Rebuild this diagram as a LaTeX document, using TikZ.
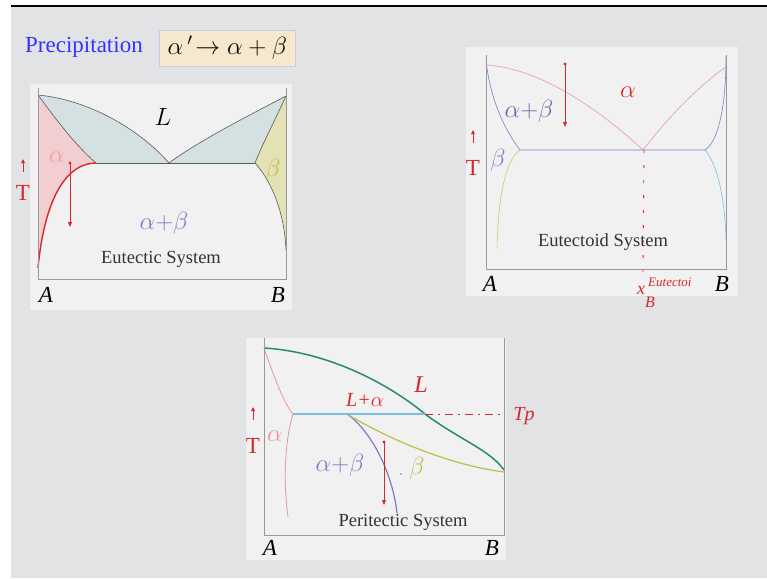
\documentclass[tikz,border=0pt]{standalone}
\usepackage{fontspec}
\setmainfont{Liberation Serif}
\usetikzlibrary{arrows.meta}
\definecolor{bgc}{RGB}{226,227,228}
\definecolor{panel}{RGB}{241,241,241}
\definecolor{hred}{RGB}{215,40,45}
\definecolor{lblue}{RGB}{212,224,226}
\definecolor{lpink}{RGB}{243,206,208}
\definecolor{lyel}{RGB}{226,226,180}
\definecolor{purp}{RGB}{130,120,200}
\definecolor{pink}{RGB}{235,150,160}
\definecolor{olive}{RGB}{190,190,70}
\definecolor{tgreen}{RGB}{40,140,100}
\definecolor{skyb}{RGB}{120,190,230}
\definecolor{beige}{RGB}{246,232,205}
\tikzset{
  frame/.style={draw=gray!80, line width=0.8pt},
  bnd/.style={draw=gray!70!black, line width=0.6pt},
  axlab/.style={font=\fontsize{23}{25}\selectfont\itshape},
  systxt/.style={font=\fontsize{18.5}{20}\selectfont, text=black!80},
  hand/.style={text=hred, font=\fontsize{20}{22}\selectfont\itshape},
  mlab/.style={font=\fontsize{23}{25}\selectfont},
  coolarr/.style={hred, line width=0.8pt, -{Triangle[length=5pt,width=4pt]}},
  tarr/.style={hred, line width=0.9pt, -{Triangle[length=4pt,width=3.5pt]}},
  tlab/.style={text=hred, font=\fontsize{23}{25}\selectfont},
}
\begin{document}
\begin{tikzpicture}[x=1pt,y=-1pt]
\useasboundingbox (0,0) rectangle (767,578);
\fill[bgc] (0,0) rectangle (767,578);
\fill[white] (0,0) rectangle (767,5);
\fill[white] (0,0) rectangle (11,578);
\fill[black] (11,5) rectangle (767,7);

% title
\node[text=blue!80!white, font=\fontsize{23}{25}\selectfont, anchor=west, inner sep=0pt] (title) at (25,47) {Precipitation};
\node[fill=beige, draw=purp!40, inner sep=3pt, minimum height=36pt, minimum width=136pt, anchor=west, font=\fontsize{25}{27}\selectfont] (eq) at (159,48) {$\alpha\,'\!\rightarrow\alpha+\beta$};

% ===== Panel 1: eutectic =====
\fill[panel] (30,84) rectangle (292,310);
\fill[lblue] (38,95) .. controls (90,100) and (140,130) .. (169,163) .. controls (200,140) and (250,115) .. (286,96)
  .. controls (275,120) and (262,145) .. (255,163) -- (96,163) .. controls (75,145) and (55,118) .. (38,95) -- cycle;
\fill[lpink] (38,95) .. controls (55,118) and (75,145) .. (96,163) .. controls (68,163) and (45,195) .. (38,268) -- cycle;
\fill[lyel] (286,96) .. controls (275,120) and (262,145) .. (255,163) .. controls (275,185) and (285,220) .. (286,250) -- cycle;
\draw[bnd] (38,95) .. controls (90,100) and (140,130) .. (169,163) .. controls (200,140) and (250,115) .. (286,96);
\draw[bnd] (38,95) .. controls (55,118) and (75,145) .. (96,163);
\draw[bnd] (286,96) .. controls (275,120) and (262,145) .. (255,163) .. controls (275,185) and (285,220) .. (286,250);
\draw[bnd] (96,163) -- (255,163);
\draw[hred, line width=1.4pt] (96,163) .. controls (68,163) and (45,195) .. (38,268);
\draw[frame] (38,88) -- (38,279) -- (286,279) -- (286,88);
\node[font=\fontsize{26}{28}\selectfont] (L1) at (163,117) {$L$};
\node[text=pink!90!white, mlab] (a1) at (57,157) {$\alpha$};
\node[text=olive, mlab] (b1) at (273,170) {$\beta$};
\node[text=purp, mlab] (ab1) at (164,223) {$\alpha{+}\beta$};
\node[systxt] (es) at (161,259) {Eutectic System};
\node[axlab] (A1) at (46,295) {A};
\node[axlab] (B1) at (278,295) {B};
\coordinate (c1s) at (70,163); \coordinate (c1e) at (70,227);
\fill[hred] (c1s) circle (1.6pt);
\draw[coolarr] (c1s) -- (c1e);
\coordinate (t1s) at (23,172); \coordinate (t1e) at (23,159);
\draw[tarr] (t1s) -- (t1e);
\node[tlab] (T1) at (23,193) {T};

% ===== Panel 2: eutectoid =====
\fill[panel] (466,47) rectangle (738,296);
\draw[pink, line width=0.6pt] (486,65) .. controls (540,68) and (600,110) .. (643,150) .. controls (670,115) and (700,85) .. (726,67);
\draw[purp, line width=0.6pt] (486,60) .. controls (490,100) and (505,130) .. (520,150) -- (705,150) .. controls (720,140) and (726,100) .. (726,57);
\draw[olive!80, line width=0.6pt] (520,150) .. controls (505,160) and (498,200) .. (497,248);
\draw[skyb, line width=0.6pt] (705,150) .. controls (718,165) and (725,200) .. (726,240);
\draw[frame] (486,55) -- (486,269) -- (726,269) -- (726,55);
\node[text=hred, mlab] (a2) at (628,92) {$\alpha$};
\node[text=purp!85!black, mlab] (ab2) at (529,111) {$\alpha{+}\beta$};
\node[text=purp, mlab] (b2) at (498,160) {$\beta$};
\node[systxt] (eds) at (603,242) {Eutectoid System};
\node[axlab] (A2) at (490,284) {A};
\node[axlab] (B2) at (722,284) {B};
\coordinate (c2s) at (565,64); \coordinate (c2e) at (565,127);
\fill[hred] (c2s) circle (1.6pt);
\draw[coolarr] (c2s) -- (c2e);
\coordinate (t2s) at (473,143); \coordinate (t2e) at (473,130);
\draw[tarr] (t2s) -- (t2e);
\node[tlab] (T2) at (473,168) {T};
\coordinate (ep) at (644,150); \coordinate (epb) at (643,272);
\draw[hred, line width=0.8pt, dash pattern=on 3pt off 12pt] (ep) -- (epb);
\node[text=hred, font=\fontsize{18}{20}\selectfont\itshape, inner sep=0pt] (xh) at (641,290) {x};
\node[text=hred, font=\fontsize{13}{15}\selectfont\itshape, inner sep=0pt, anchor=west] (xsup) at (648,282) {Eutectoi};
\node[text=hred, font=\fontsize{16}{18}\selectfont\itshape, inner sep=0pt] (xsub) at (650,302) {B};

% ===== Panel 3: peritectic =====
\fill[panel] (246,338) rectangle (506,560);
\draw[tgreen, line width=1.5pt] (264,348) .. controls (330,352) and (390,385) .. (425,414) .. controls (460,440) and (490,450) .. (504,470);
\draw[pink, line width=0.8pt] (264,348) .. controls (275,380) and (285,405) .. (293,414) .. controls (285,440) and (283,480) .. (288,517);
\draw[purp, line width=1.2pt] (347,414) .. controls (370,430) and (392,470) .. (397,513);
\draw[olive, line width=1.2pt] (347,414) .. controls (390,440) and (450,465) .. (504,472);
\draw[skyb, line width=1.4pt] (293,414) -- (425,414);
\draw[frame] (264,338) -- (264,535) -- (504,535) -- (504,338);
\coordinate (pp) at (425,414); \coordinate (ppr) at (505,414);
\draw[hred, line width=0.8pt, dash pattern=on 8pt off 5pt on 2pt off 5pt] (pp) -- (ppr);
\node[hand] (tp) at (524,416) {Tp};
\node[hand] (la) at (365,400) {L+$\alpha$};
\node[hand, font=\fontsize{24}{26}\selectfont\itshape] (Lh) at (421,385) {L};
\node[text=pink, mlab] (a3) at (275,436) {$\alpha$};
\node[text=purp, mlab] (ab3) at (340,465) {$\alpha{+}\beta$};
\node[text=olive, mlab] (b3) at (417,468) {$\beta$};
\fill[purp] (401,474) circle (0.8pt);
\node[systxt] (ps) at (403,522) {Peritectic System};
\node[axlab] (A3) at (270,548) {A};
\node[axlab] (B3) at (492,548) {B};
\coordinate (c3s) at (384,442); \coordinate (c3e) at (384,505);
\fill[hred] (c3s) circle (1.6pt);
\draw[coolarr] (c3s) -- (c3e);
\coordinate (t3s) at (253,420); \coordinate (t3e) at (253,407);
\draw[tarr] (t3s) -- (t3e);
\node[tlab] (T3) at (253,446) {T};
\end{tikzpicture}
\end{document}
